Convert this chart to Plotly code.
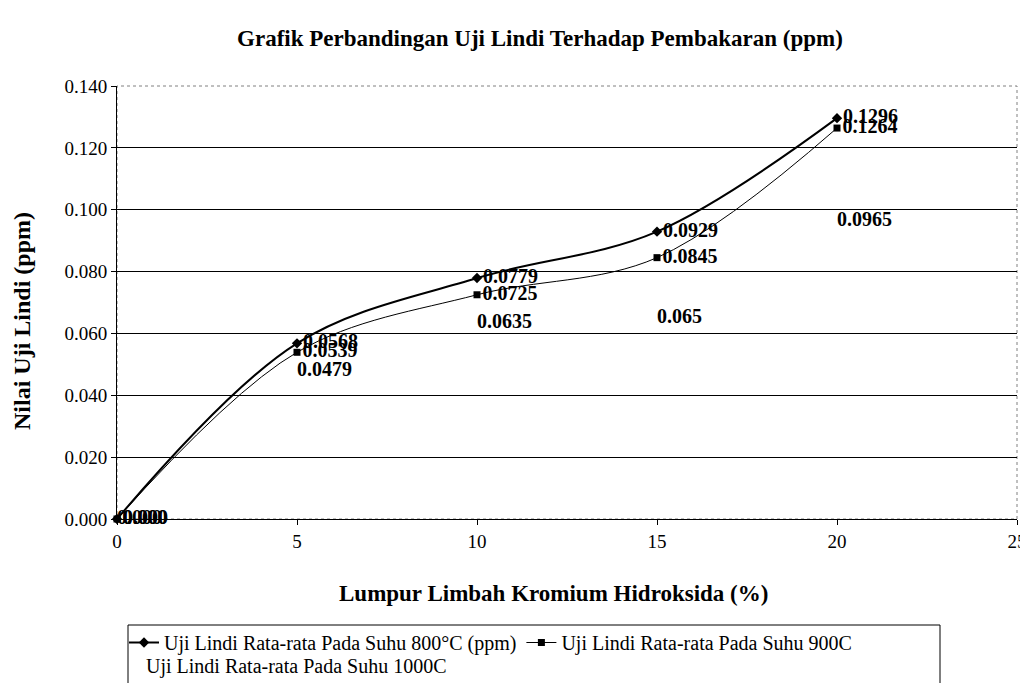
import plotly.graph_objects as go

x_pct = [0, 5, 10, 15, 20]
suhu_800 = [0.000, 0.0568, 0.0779, 0.0929, 0.1296]
suhu_900 = [0.000, 0.0539, 0.0725, 0.0845, 0.1264]
suhu_1000 = [0.000, 0.0479, 0.0635, 0.065, 0.0965]
label_800 = ["0.000", "0.0568", "0.0779", "0.0929", "0.1296"]
label_900 = ["0.000", "0.0539", "0.0725", "0.0845", "0.1264"]
label_1000 = ["0.000", "0.0479", "0.0635", "0.065", "0.0965"]
names = ["Uji Lindi Rata-rata Pada Suhu 800°C (ppm)",
         "Uji Lindi Rata-rata Pada Suhu 900C",
         "Uji Lindi Rata-rata Pada Suhu 1000C"]

SERIF = "Liberation Serif"
lab_font = dict(family=SERIF, size=20, color="black", weight="bold")

# page offset: the html body adds 8px on top/left
L, T = 109, 78
PW, PH = 900, 433

fig = go.Figure()
fig.add_trace(go.Scatter(
    x=x_pct, y=suhu_800, name=names[0], mode="lines+markers+text",
    line=dict(color="black", width=2, shape="spline", smoothing=1),
    marker=dict(symbol="diamond", size=8, color="black"),
    text=label_800, textposition="middle right", textfont=lab_font,
    cliponaxis=False, legend="legend"))
fig.add_trace(go.Scatter(
    x=x_pct, y=suhu_900, name=names[1], mode="lines+markers+text",
    line=dict(color="black", width=1, shape="spline", smoothing=1),
    marker=dict(symbol="square", size=7, color="black"),
    text=label_900, textposition="middle right", textfont=lab_font,
    cliponaxis=False, legend="legend"))
fig.add_trace(go.Scatter(
    x=x_pct, y=suhu_1000, name=names[2], mode="text",
    text=label_1000, textposition="middle right", textfont=lab_font,
    showlegend=False, cliponaxis=False))
# legend entry for the 1000C series (no visible symbol)
fig.add_trace(go.Scatter(
    x=[None], y=[None], name=names[2], mode="lines",
    line=dict(color="rgba(0,0,0,0)", width=0), showlegend=True, legend="legend2"))

leg_common = dict(orientation="h", xanchor="left", yanchor="top",
                  borderwidth=0, bgcolor="rgba(0,0,0,0)",
                  font=dict(family=SERIF, size=20), itemwidth=30)

fig.update_layout(
    width=1028, height=683,
    paper_bgcolor="white", plot_bgcolor="white",
    margin=dict(l=L, r=1028 - L - PW, t=T, b=683 - T - PH, autoexpand=False),
    font=dict(family=SERIF, size=19, color="black"),
    title=dict(text="<b>Grafik Perbandingan Uji Lindi Terhadap Pembakaran (ppm)</b>",
               x=532 / 1028, xanchor="center", y=1 - 30 / 683, yanchor="middle",
               font=dict(family=SERIF, size=23, color="black")),
    xaxis=dict(range=[0, 25], dtick=5, tick0=0, showgrid=False, zeroline=False,
               ticks="outside", ticklen=5, tickcolor="black",
               showline=False, automargin=False,
               tickfont=dict(family=SERIF, size=19)),
    yaxis=dict(range=[0, 0.14], dtick=0.02, tickformat=".3f",
               showgrid=True, gridcolor="black", gridwidth=1,
               zeroline=True, zerolinecolor="black", zerolinewidth=1,
               showline=True, linecolor="black", linewidth=1,
               ticks="outside", ticklen=5, tickcolor="black", automargin=False,
               tickfont=dict(family=SERIF, size=19)),
    legend=dict(x=7 / PW, y=-104 / PH, **leg_common),
    legend2=dict(x=-11 / PW, y=-127 / PH, **leg_common),
    annotations=[
        dict(text="<b>Lumpur Limbah Kromium Hidroksida (%)</b>",
             xref="paper", yref="paper", x=(553 - 117) / PW, y=-(593 - 519) / PH,
             xanchor="center", yanchor="middle", showarrow=False,
             font=dict(family=SERIF, size=23, color="black")),
        dict(text="<b>Nilai Uji Lindi (ppm)</b>", textangle=-90,
             xref="paper", yref="paper", x=-(117 - 22) / PW, y=(519 - 321) / PH,
             xanchor="center", yanchor="middle", showarrow=False,
             font=dict(family=SERIF, size=24, color="black")),
    ],
    shapes=[
        dict(type="rect", xref="paper", yref="paper", x0=0, x1=1, y0=0, y1=1,
             line=dict(color="gray", width=1, dash="dot"), layer="below"),
        dict(type="rect", xref="paper", yref="paper",
             x0=11 / PW, x1=823 / PW, y0=-0.6, y1=-106 / PH,
             line=dict(color="black", width=1), layer="below"),
    ],
)

fig.write_html("out.html")
